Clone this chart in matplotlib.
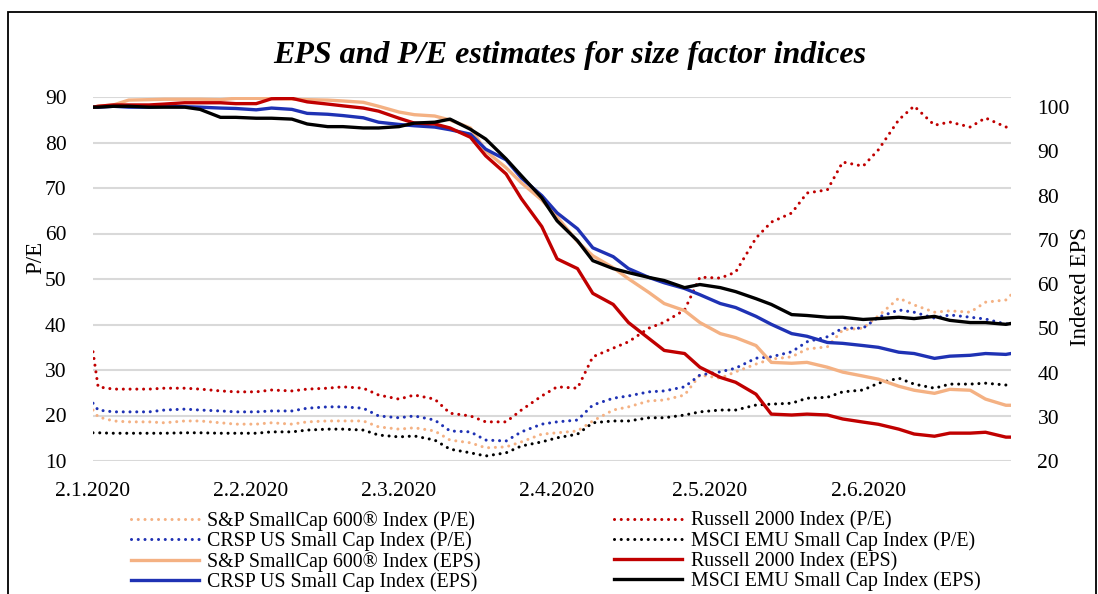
import matplotlib
matplotlib.use("Agg")
import matplotlib.pyplot as plt
import pandas as pd
from matplotlib.patches import Rectangle

# dates of the readings (dd.mm.yyyy)
date_labels = [
    "02.01.2020", "03.01.2020", "06.01.2020", "09.01.2020", "13.01.2020", "16.01.2020",
    "20.01.2020", "23.01.2020", "27.01.2020", "30.01.2020", "03.02.2020", "06.02.2020",
    "10.02.2020", "13.02.2020", "17.02.2020", "20.02.2020", "24.02.2020", "27.02.2020",
    "02.03.2020", "05.03.2020", "09.03.2020", "12.03.2020", "16.03.2020", "19.03.2020",
    "23.03.2020", "26.03.2020", "30.03.2020", "02.04.2020", "06.04.2020", "09.04.2020",
    "13.04.2020", "16.04.2020", "20.04.2020", "23.04.2020", "27.04.2020", "30.04.2020",
    "04.05.2020", "07.05.2020", "11.05.2020", "14.05.2020", "18.05.2020", "21.05.2020",
    "25.05.2020", "28.05.2020", "01.06.2020", "04.06.2020", "08.06.2020", "11.06.2020",
    "15.06.2020", "18.06.2020", "22.06.2020", "25.06.2020", "29.06.2020", "30.06.2020",
]

# P/E (left axis)
sp600_pe = [21.2, 19.7, 18.8, 18.6, 18.6, 18.4, 18.8, 18.8, 18.4, 18.1, 18.1, 18.4,
            18.1, 18.6, 18.8, 18.8, 18.8, 17.5, 17.0, 17.3, 16.6, 14.6, 14.0, 12.9,
            13.1, 14.2, 15.9, 16.2, 16.6, 18.8, 21.2, 21.9, 23.2, 23.4, 24.5, 28.9,
            28.2, 29.6, 31.3, 32.4, 32.9, 34.6, 35.1, 38.8, 39.2, 41.9, 45.8, 44.3,
            42.7, 43.0, 42.7, 44.9, 45.4, 46.5]
crsp_pe = [22.7, 21.2, 20.8, 20.8, 20.8, 21.2, 21.4, 21.2, 21.0, 20.8, 20.8, 21.0,
           21.0, 21.6, 21.9, 21.9, 21.6, 19.9, 19.5, 19.9, 19.0, 16.6, 16.4, 14.6,
           14.4, 16.4, 18.1, 18.6, 19.0, 22.3, 23.8, 24.3, 25.2, 25.4, 26.3, 28.9,
           29.6, 30.4, 32.6, 32.9, 34.0, 36.2, 37.3, 39.2, 39.2, 41.6, 43.2, 42.7,
           41.4, 42.1, 41.6, 41.2, 40.1, 40.3]
russell_pe = [34.0, 26.3, 25.8, 25.8, 25.8, 26.0, 26.0, 25.8, 25.4, 25.2, 25.2, 25.6,
              25.4, 25.8, 26.0, 26.3, 26.0, 24.5, 23.6, 24.5, 23.6, 20.5, 19.9, 18.6,
              18.6, 21.2, 24.3, 26.3, 26.0, 32.9, 34.8, 36.2, 39.2, 40.5, 43.2, 50.4,
              50.2, 51.5, 59.0, 62.5, 64.5, 68.9, 69.6, 75.7, 74.8, 78.4, 85.0, 88.0,
              83.8, 84.5, 83.4, 85.4, 83.4, 83.4]
msci_pe = [16.2, 16.2, 16.1, 16.1, 16.1, 16.1, 16.2, 16.2, 16.1, 16.1, 16.1, 16.4,
           16.4, 16.8, 17.0, 17.0, 16.8, 15.7, 15.3, 15.5, 14.6, 12.6, 11.8, 11.1,
           11.8, 13.3, 14.2, 15.1, 15.9, 18.4, 18.8, 18.8, 19.5, 19.5, 20.1, 20.8,
           21.2, 21.2, 22.3, 22.5, 22.7, 23.8, 24.0, 25.2, 25.6, 27.1, 28.2, 26.9,
           26.0, 26.9, 26.9, 27.1, 26.7, 27.1]

# Indexed EPS (right axis)
sp600_eps = [100.0, 100.2, 100.5, 101.6, 101.7, 101.8, 101.8, 101.8, 101.7, 102.0, 102.0, 102.0,
             101.8, 101.7, 101.6, 101.4, 101.1, 100.2, 98.9, 98.3, 98.0, 97.1, 95.3, 90.1,
             86.3, 82.9, 79.0, 75.2, 69.6, 66.4, 63.7, 61.2, 58.1, 55.6, 54.0, 51.3,
             48.8, 47.9, 46.1, 42.3, 42.1, 42.3, 41.2, 40.1, 39.2, 38.5, 36.9, 36.0,
             35.3, 36.2, 36.0, 34.0, 32.6, 32.6]
crsp_eps = [100.0, 100.0, 100.2, 100.0, 100.0, 100.2, 100.1, 100.0, 99.8, 99.7, 99.4, 99.8,
            99.5, 98.6, 98.4, 98.1, 97.6, 96.6, 96.1, 95.8, 95.5, 94.9, 93.9, 90.5,
            88.1, 84.0, 80.0, 76.1, 72.5, 68.2, 66.2, 63.5, 61.5, 60.3, 59.0, 57.6,
            55.6, 54.7, 52.7, 50.9, 48.8, 48.2, 46.8, 46.6, 46.1, 45.7, 44.6, 44.3,
            43.2, 43.7, 43.9, 44.3, 44.1, 44.3]
russell_eps = [100.0, 100.2, 100.5, 100.5, 100.5, 100.7, 101.0, 101.0, 101.0, 100.8, 100.8, 101.9,
               102.0, 101.2, 100.7, 100.3, 99.8, 99.1, 97.5, 96.4, 96.2, 95.3, 93.2, 89.0,
               84.9, 79.3, 73.0, 65.7, 63.5, 57.9, 55.4, 51.3, 47.7, 45.0, 44.3, 41.2,
               38.9, 37.8, 35.1, 30.6, 30.4, 30.6, 30.4, 29.5, 28.8, 28.3, 27.2, 26.1,
               25.6, 26.3, 26.3, 26.5, 25.4, 25.4]
msci_eps = [100.0, 100.0, 100.2, 100.2, 100.0, 100.0, 100.0, 99.5, 97.7, 97.7, 97.5, 97.5,
            97.3, 96.2, 95.6, 95.6, 95.3, 95.3, 95.6, 96.4, 96.6, 97.3, 95.0, 92.8,
            88.3, 84.5, 79.5, 74.3, 69.8, 65.3, 63.5, 62.6, 61.5, 60.8, 59.2, 59.9,
            59.2, 58.3, 56.7, 55.4, 53.1, 52.9, 52.5, 52.5, 52.0, 52.2, 52.5, 52.2,
            52.7, 51.8, 51.3, 51.3, 50.9, 51.1]

tick_labels = ["2.1.2020", "2.2.2020", "2.3.2020", "2.4.2020", "2.5.2020", "2.6.2020"]
pe_ticks = [10, 20, 30, 40, 50, 60, 70, 80, 90]
eps_ticks = [20, 30, 40, 50, 60, 70, 80, 90, 100]

dates = pd.to_datetime(date_labels, format="%d.%m.%Y")
tick_dates = pd.to_datetime(tick_labels, format="%d.%m.%Y")

c_sp = "#F4B183"
c_crsp = "#1F32B4"
c_rus = "#C00000"
c_msci = "#000000"

plt.rcParams["font.family"] = ["Liberation Serif", "DejaVu Serif"]

fig = plt.figure(figsize=(10.98, 5.94), dpi=100)
fig.patches.append(Rectangle((8 / 1098, -0.1), 1088 / 1098, 1.1 - 12 / 594,
                             transform=fig.transFigure, fill=False,
                             edgecolor="black", linewidth=1.3))

ax = fig.add_axes([93 / 1098, 1 - 461 / 594, 918 / 1098, 364 / 594])
ax2 = ax.twinx()

dot = dict(linestyle=(0, (0.01, 2.2)), dash_capstyle="round", linewidth=2.2)
solid = dict(linestyle="-", linewidth=2.4, solid_joinstyle="round")

h_sp_pe, = ax.plot(dates, sp600_pe, color=c_sp, **dot)
h_crsp_pe, = ax.plot(dates, crsp_pe, color=c_crsp, **dot)
h_rus_pe, = ax.plot(dates, russell_pe, color=c_rus, **dot)
h_msci_pe, = ax.plot(dates, msci_pe, color=c_msci, **dot)

h_sp_eps, = ax2.plot(dates, sp600_eps, color=c_sp, **solid)
h_crsp_eps, = ax2.plot(dates, crsp_eps, color=c_crsp, **solid)
h_rus_eps, = ax2.plot(dates, russell_eps, color=c_rus, **solid)
h_msci_eps, = ax2.plot(dates, msci_eps, color=c_msci, **solid)

ax.set_xlim(pd.Timestamp("2020-01-02"), pd.Timestamp("2020-06-30"))
ax.set_ylim(10, 90)
ax2.set_ylim(20, 102.3)
ax.set_yticks(pe_ticks)
ax2.set_yticks(eps_ticks)
ax.set_xticks(tick_dates)
ax.set_xticklabels(tick_labels)

ax.grid(axis="y", color="#D9D9D9", linewidth=1.5)
ax.set_axisbelow(True)
for a in (ax, ax2):
    for s in a.spines.values():
        s.set_visible(False)
    a.tick_params(length=0, labelsize=15.5)
ax.tick_params(axis="y", pad=19)
ax2.tick_params(axis="y", pad=19)
ax.tick_params(axis="x", pad=15)

fig.text(36 / 1098, 1 - 257 / 594, "P/E", rotation=90, ha="center", va="center", fontsize=16.5)
fig.text(1080 / 1098, 1 - 287 / 594, "Indexed EPS", rotation=90, ha="center", va="center", fontsize=16.5)
fig.text(570 / 1098, 1 - 55 / 594, "EPS and P/E estimates for size factor indices",
         ha="center", va="center", fontsize=23, fontweight="bold", fontstyle="italic")

handles = [h_sp_pe, h_crsp_pe, h_sp_eps, h_crsp_eps, h_rus_pe, h_msci_pe, h_rus_eps, h_msci_eps]
labels = ["S&P SmallCap 600\u00ae Index (P/E)", "CRSP US Small Cap Index (P/E)",
          "S&P SmallCap 600\u00ae Index (EPS)", "CRSP US Small Cap Index (EPS)",
          "Russell 2000 Index (P/E)", "MSCI EMU Small Cap Index (P/E)",
          "Russell 2000 Index (EPS)", "MSCI EMU Small Cap Index (EPS)"]
fig.legend(handles, labels, ncol=2, loc="upper left", bbox_to_anchor=(131 / 1098, 1 - 511 / 594),
           frameon=False, fontsize=14.3, handlelength=3.4, handletextpad=0.45,
           columnspacing=6.7, labelspacing=0.03, borderpad=0, borderaxespad=0)

fig.savefig("out.png", dpi=100)
